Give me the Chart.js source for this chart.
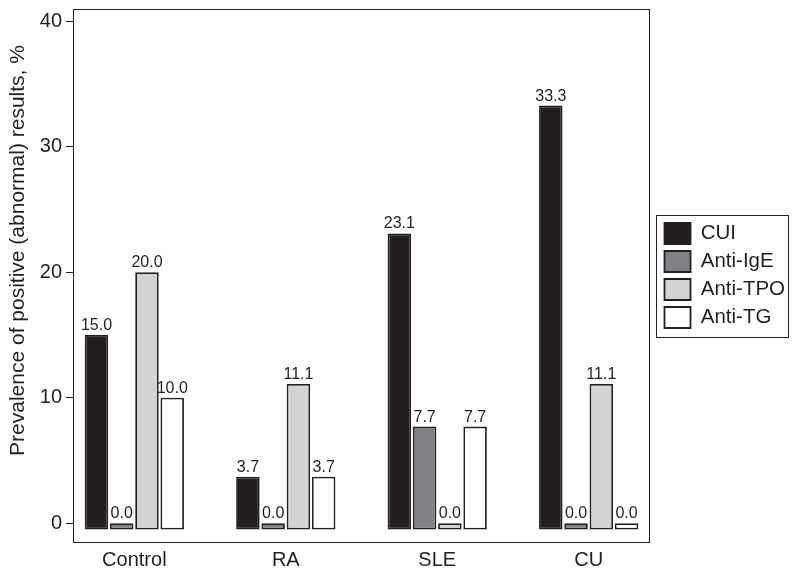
<!DOCTYPE html>
<html>
<head>
<meta charset="utf-8">
<script src="https://cdn.jsdelivr.net/npm/chart.js@4/dist/chart.umd.min.js"></script>
<style>
  html, body { margin: 0; padding: 0; background: #fff; }
  #wrap { width: 800px; height: 575px; }
</style>
</head>
<body>
<div id="wrap"><canvas id="chart"></canvas></div>
<script>
// groups along the x axis
const categories = ['Control', 'RA', 'SLE', 'CU'];
const groupPos = [1, 2, 3, 4];

// prevalence (%) per marker
const cuiVals = [15.0, 3.7, 23.1, 33.3];
const igeVals = [0.0, 0.0, 7.7, 0.0];
const tpoVals = [20.0, 11.1, 0.0, 11.1];
const tgVals = [10.0, 3.7, 7.7, 0.0];

const yTicks = [0, 10, 20, 30, 40];
const yTitle = 'Prevalence of positive (abnormal) results, %';

const INK = '#231f20';
const FONT = "'Liberation Sans', Arial, sans-serif";

function points(vals) {
    return vals.map((v, i) => ({ x: groupPos[i], y: v }));
}

function series(label, vals, fill) {
    return {
        label,
        data: points(vals),
        backgroundColor: fill,
        borderColor: INK,
        borderWidth: 1.8,
        borderSkipped: false,
        base: -0.5,
        categoryPercentage: 0.667,
        barPercentage: 0.93,
    };
}

// value labels above each bar
const valueLabels = {
    id: 'valueLabels',
    afterDatasetsDraw(chart) {
        const ctx = chart.ctx;
        ctx.save();
        ctx.font = '16px ' + FONT;
        ctx.fillStyle = INK;
        ctx.textAlign = 'center';
        ctx.textBaseline = 'alphabetic';
        chart.data.datasets.forEach((ds, di) => {
            chart.getDatasetMeta(di).data.forEach((bar, i) => {
                ctx.fillText(ds.data[i].y.toFixed(1), bar.x, bar.y - 5);
            });
        });
        ctx.restore();
    },
};

// box around plot area and legend, plus the y title (sits a bit above centre)
const frames = {
    id: 'frames',
    afterDraw(chart) {
        const ctx = chart.ctx;
        const a = chart.chartArea;
        ctx.save();
        ctx.strokeStyle = INK;
        ctx.lineWidth = 1;
        ctx.strokeRect(Math.round(a.left) + 0.5, Math.round(a.top) + 0.5,
            Math.round(a.right - a.left), Math.round(a.bottom - a.top));
        const hb = chart.legend.legendHitBoxes;
        if (hb && hb.length) {
            const l = hb[0].left - 9;
            const t = hb[0].top - 8;
            const last = hb[hb.length - 1];
            const b = last.top + last.height + 9;
            const r = l + 132;
            ctx.strokeRect(Math.round(l) + 0.5, Math.round(t) + 0.5, Math.round(r - l), Math.round(b - t));
        }
        ctx.translate(18, (a.top + a.bottom) / 2 - 25);
        ctx.rotate(-Math.PI / 2);
        ctx.font = '21px ' + FONT;
        ctx.fillStyle = INK;
        ctx.textAlign = 'center';
        ctx.textBaseline = 'middle';
        ctx.fillText(yTitle, 0, 0);
        ctx.restore();
    },
};

new Chart(document.getElementById('chart').getContext('2d'), {
    type: 'bar',
    data: {
        datasets: [
            series('CUI', cuiVals, INK),
            series('Anti-IgE', igeVals, '#808285'),
            series('Anti-TPO', tpoVals, '#d1d3d4'),
            series('Anti-TG', tgVals, '#ffffff'),
        ],
    },
    options: {
        responsive: true,
        maintainAspectRatio: false,
        animation: false,
        layout: { padding: { top: 9, right: 11, left: 0, bottom: 0 } },
        plugins: {
            legend: {
                position: 'right',
                fullSize: false,
                labels: {
                    color: INK,
                    font: { family: FONT, size: 20.5 },
                    boxWidth: 26,
                    boxHeight: 21,
                    padding: 7,
                },
            },
            tooltip: { enabled: false },
        },
        scales: {
            x: {
                type: 'linear',
                min: 0.595,
                max: 4.395,
                offset: false,
                grid: { display: false, drawTicks: false },
                border: { display: false },
                ticks: {
                    color: INK,
                    font: { family: FONT, size: 20 },
                    padding: 6,
                    callback: v => categories[v - 1],
                },
                afterBuildTicks: s => { s.ticks = groupPos.map(v => ({ value: v })); },
                afterFit: s => { s.height = 33; s.paddingLeft = 0; s.paddingRight = 0; },
            },
            y: {
                min: -1.5,
                max: 41,
                grid: { drawOnChartArea: false, tickLength: 7, color: INK },
                border: { display: false },
                ticks: {
                    color: INK,
                    font: { family: FONT, size: 20 },
                    padding: 4,
                },
                afterBuildTicks: s => { s.ticks = yTicks.map(v => ({ value: v })); },
                afterFit: s => { s.width = 73; s.paddingTop = 0; s.paddingBottom = 0; },
            },
            gap: {
                position: 'right',
                display: true,
                grid: { display: false, drawTicks: false },
                border: { display: false },
                ticks: { display: false },
                afterFit: s => { s.width = 9; s.paddingTop = 0; s.paddingBottom = 0; },
            },
        },
    },
    plugins: [valueLabels, frames],
});
</script>
</body>
</html>
